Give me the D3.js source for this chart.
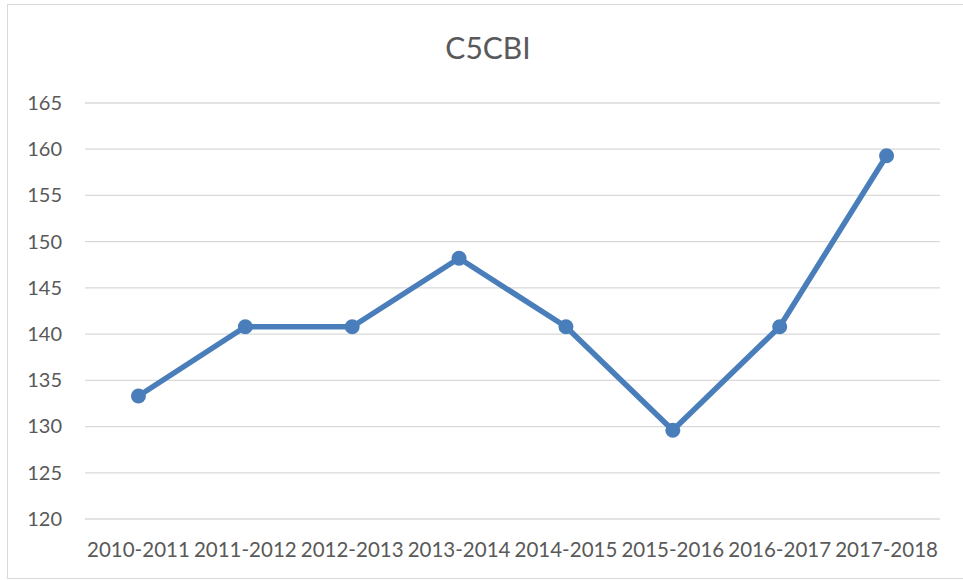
<!DOCTYPE html>
<html>
<head>
<meta charset="utf-8">
<script src="https://cdn.jsdelivr.net/npm/d3@7"></script>
<style>
  body { margin: 0; background: #fff; }
  svg { display: block; font-family: Lato, "Open Sans", sans-serif; }
</style>
</head>
<body>
<svg width="963" height="580"></svg>
<script>
var categories = ['2010-2011', '2011-2012', '2012-2013', '2013-2014', '2014-2015', '2015-2016', '2016-2017', '2017-2018']
var values = [133.3, 140.8, 140.8, 148.2, 140.8, 129.6, 140.8, 159.3]
var yTicks = [120, 125, 130, 135, 140, 145, 150, 155, 160, 165]

var svg = d3.select('svg')
var plotLeft = 85, plotRight = 940, plotTop = 103, plotBottom = 519

// chart border
svg.append('rect')
    .attr('x', 7.5).attr('y', 4.5)
    .attr('width', 970).attr('height', 574)
    .attr('fill', 'none')
    .attr('stroke', '#d9d9d9')

svg.append('text')
    .attr('x', 488).attr('y', 59)
    .attr('text-anchor', 'middle')
    .attr('font-size', 30)
    .attr('fill', '#595959')
    .text('C5CBI')

var x = d3.scaleBand().domain(categories).range([plotLeft, plotRight])
var y = d3.scaleLinear().domain([120, 165]).range([plotBottom, plotTop])

// gridlines
svg.append('g')
    .selectAll('line')
    .data(yTicks)
    .enter()
    .append('line')
    .attr('x1', plotLeft).attr('x2', plotRight)
    .attr('y1', (d) => y(d)).attr('y2', (d) => y(d))
    .attr('stroke', '#d9d9d9')
    .attr('stroke-width', 1.3)

var yAxis = svg.append('g')
    .attr('transform', 'translate(62, 0)')
    .call(d3.axisLeft(y).tickValues(yTicks).tickSize(0).tickPadding(0))
yAxis.select('.domain').remove()
yAxis.selectAll('text')
    .attr('font-size', 20)
    .attr('fill', '#595959')
    .attr('font-family', 'Lato, "Open Sans", sans-serif')

var xAxis = svg.append('g')
    .attr('transform', 'translate(0, ' + plotBottom + ')')
    .call(d3.axisBottom(x).tickSize(0).tickPadding(23))
xAxis.select('.domain').remove()
xAxis.selectAll('text')
    .attr('font-size', 20.5)
    .attr('fill', '#595959')
    .attr('font-family', 'Lato, "Open Sans", sans-serif')

var line = d3.line()
    .x((d, i) => x(categories[i]) + x.bandwidth() / 2)
    .y((d) => y(d))

svg.append('path')
    .datum(values)
    .attr('d', line)
    .attr('fill', 'none')
    .attr('stroke', '#4a7ebb')
    .attr('stroke-width', 5.5)
    .attr('stroke-linejoin', 'round')

svg.append('g')
    .selectAll('circle')
    .data(values)
    .enter()
    .append('circle')
    .attr('cx', (d, i) => x(categories[i]) + x.bandwidth() / 2)
    .attr('cy', (d) => y(d))
    .attr('r', 7.5)
    .attr('fill', '#4a7ebb')
</script>
</body>
</html>
